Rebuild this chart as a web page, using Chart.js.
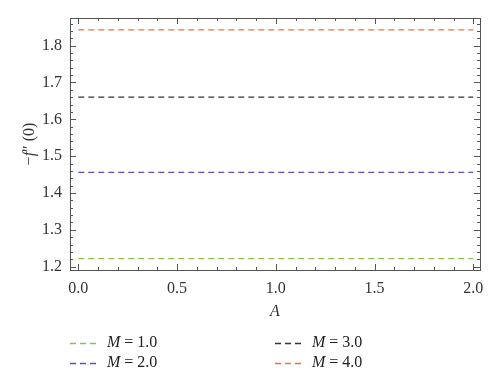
<!DOCTYPE html>
<html lang="en">
<head>
<meta charset="UTF-8">
<title>-f''(0) vs A</title>
<script src="https://cdn.jsdelivr.net/npm/chart.js"></script>
<style>
  html, body { margin: 0; padding: 0; background: #fff; }
  #wrap { width: 500px; height: 386px; }
</style>
</head>
<body>
<div id="wrap"><canvas id="myChart" width="500" height="386"></canvas></div>

<script>
// data
const aValues = [0.0, 2.0];
const m1 = [1.222, 1.222];
const m2 = [1.456, 1.456];
const m3 = [1.660, 1.660];
const m4 = [1.843, 1.843];
const seriesLabels = ['1.0', '2.0', '3.0', '4.0'];
const seriesColors = ['#8cc152', '#5a55b4', '#333333', '#e8743b'];
const xTicks = [0.0, 0.5, 1.0, 1.5, 2.0];
const yTicks = [1.2, 1.3, 1.4, 1.5, 1.6, 1.7, 1.8];

const serif = "'Liberation Serif', 'DejaVu Serif', serif";

function toPoints(vals) {
  return aValues.map((a, i) => ({ x: a, y: vals[i] }));
}

const data = {
  datasets: [m1, m2, m3, m4].map((vals, i) => ({
    label: seriesLabels[i],
    data: toPoints(vals),
    borderColor: seriesColors[i],
    borderWidth: 1.2,
    borderDash: [6, 4],
    pointRadius: 0,
    fill: false
  }))
};

// frame, inner ticks, axis titles and legend
const decor = {
  id: 'decor',
  afterDraw(chart) {
    const ctx = chart.ctx;
    const a = chart.chartArea;
    const xs = chart.scales.x, ys = chart.scales.y;
    ctx.save();
    ctx.strokeStyle = '#555';
    ctx.lineWidth = 1;
    ctx.strokeRect(a.left + 0.5, a.top + 0.5, a.right - a.left, a.bottom - a.top);

    ctx.beginPath();
    for (let i = 0; i <= 20; i++) {
      const v = i / 10;
      const len = (i % 5 === 0) ? 6 : 3;
      const px = Math.round(xs.getPixelForValue(v)) + 0.5;
      ctx.moveTo(px, a.bottom); ctx.lineTo(px, a.bottom - len);
      ctx.moveTo(px, a.top); ctx.lineTo(px, a.top + len);
    }
    for (let i = 0; i <= 35; i++) {
      const v = 1.2 + i * 0.02;
      if (v > ys.max) break;
      const len = (i % 5 === 0) ? 6 : 3;
      const py = Math.round(ys.getPixelForValue(v)) + 0.5;
      ctx.moveTo(a.left, py); ctx.lineTo(a.left + len, py);
      ctx.moveTo(a.right, py); ctx.lineTo(a.right - len, py);
    }
    ctx.stroke();

    // x axis title
    ctx.fillStyle = '#333';
    ctx.font = 'italic 16px ' + serif;
    ctx.textAlign = 'center';
    ctx.textBaseline = 'middle';
    ctx.fillText('A', (a.left + a.right) / 2, 312);
    ctx.textAlign = 'left';

    // y axis title: -f'' (0)
    ctx.translate(30, (a.top + a.bottom) / 2);
    ctx.rotate(-Math.PI / 2);
    const parts = [
      ['\u2212', 'normal 16px ' + serif],
      ['f', 'italic 16px ' + serif],
      ['\u2033 (0)', 'normal 16px ' + serif]
    ];
    let total = 0;
    parts.forEach(p => { ctx.font = p[1]; total += ctx.measureText(p[0]).width; });
    let cx = -total / 2;
    parts.forEach(p => {
      ctx.font = p[1];
      ctx.fillText(p[0], cx, 0);
      cx += ctx.measureText(p[0]).width;
    });
    ctx.restore();

    // legend, two columns
    ctx.save();
    const cols = [70, 275];
    const rows = [343, 363];
    chart.data.datasets.forEach((ds, i) => {
      const x = cols[Math.floor(i / 2)];
      const y = rows[i % 2];
      ctx.strokeStyle = ds.borderColor;
      ctx.lineWidth = 1.5;
      ctx.setLineDash([6, 4]);
      ctx.beginPath();
      ctx.moveTo(x, y + 0.5); ctx.lineTo(x + 28, y + 0.5);
      ctx.stroke();
      ctx.setLineDash([]);
      ctx.fillStyle = '#222';
      ctx.textBaseline = 'middle';
      ctx.font = 'italic 16px ' + serif;
      ctx.fillText('M', x + 37, y);
      const w = ctx.measureText('M').width;
      ctx.font = 'normal 16px ' + serif;
      ctx.fillText(' = ' + ds.label, x + 37 + w, y);
    });
    ctx.restore();
  }
};

const config = {
  type: 'line',
  data: data,
  options: {
    responsive: false,
    animation: false,
    layout: { padding: { top: 18, right: 20, left: 0, bottom: 0 } },
    plugins: { legend: false, tooltip: { enabled: false } },
    scales: {
      x: {
        type: 'linear',
        min: -0.042,
        max: 2.034,
        grid: { display: false, drawTicks: false },
        border: { display: false },
        afterBuildTicks: s => { s.ticks = xTicks.map(v => ({ value: v })); },
        afterFit: s => { s.height = 116; },
        ticks: {
          padding: 9,
          color: '#333',
          font: { family: serif, size: 16 },
          callback: v => Number(v).toFixed(1),
          maxRotation: 0
        }
      },
      y: {
        min: 1.191,
        max: 1.875,
        grid: { display: false, drawTicks: false },
        border: { display: false },
        afterBuildTicks: s => { s.ticks = yTicks.map(v => ({ value: v })); },
        afterFit: s => { s.width = 70; },
        ticks: {
          padding: 8,
          color: '#333',
          font: { family: serif, size: 16 },
          callback: v => Number(v).toFixed(1)
        }
      }
    }
  },
  plugins: [decor]
};

const lineChart = new Chart(document.getElementById('myChart'), config);
</script>
</body>
</html>
